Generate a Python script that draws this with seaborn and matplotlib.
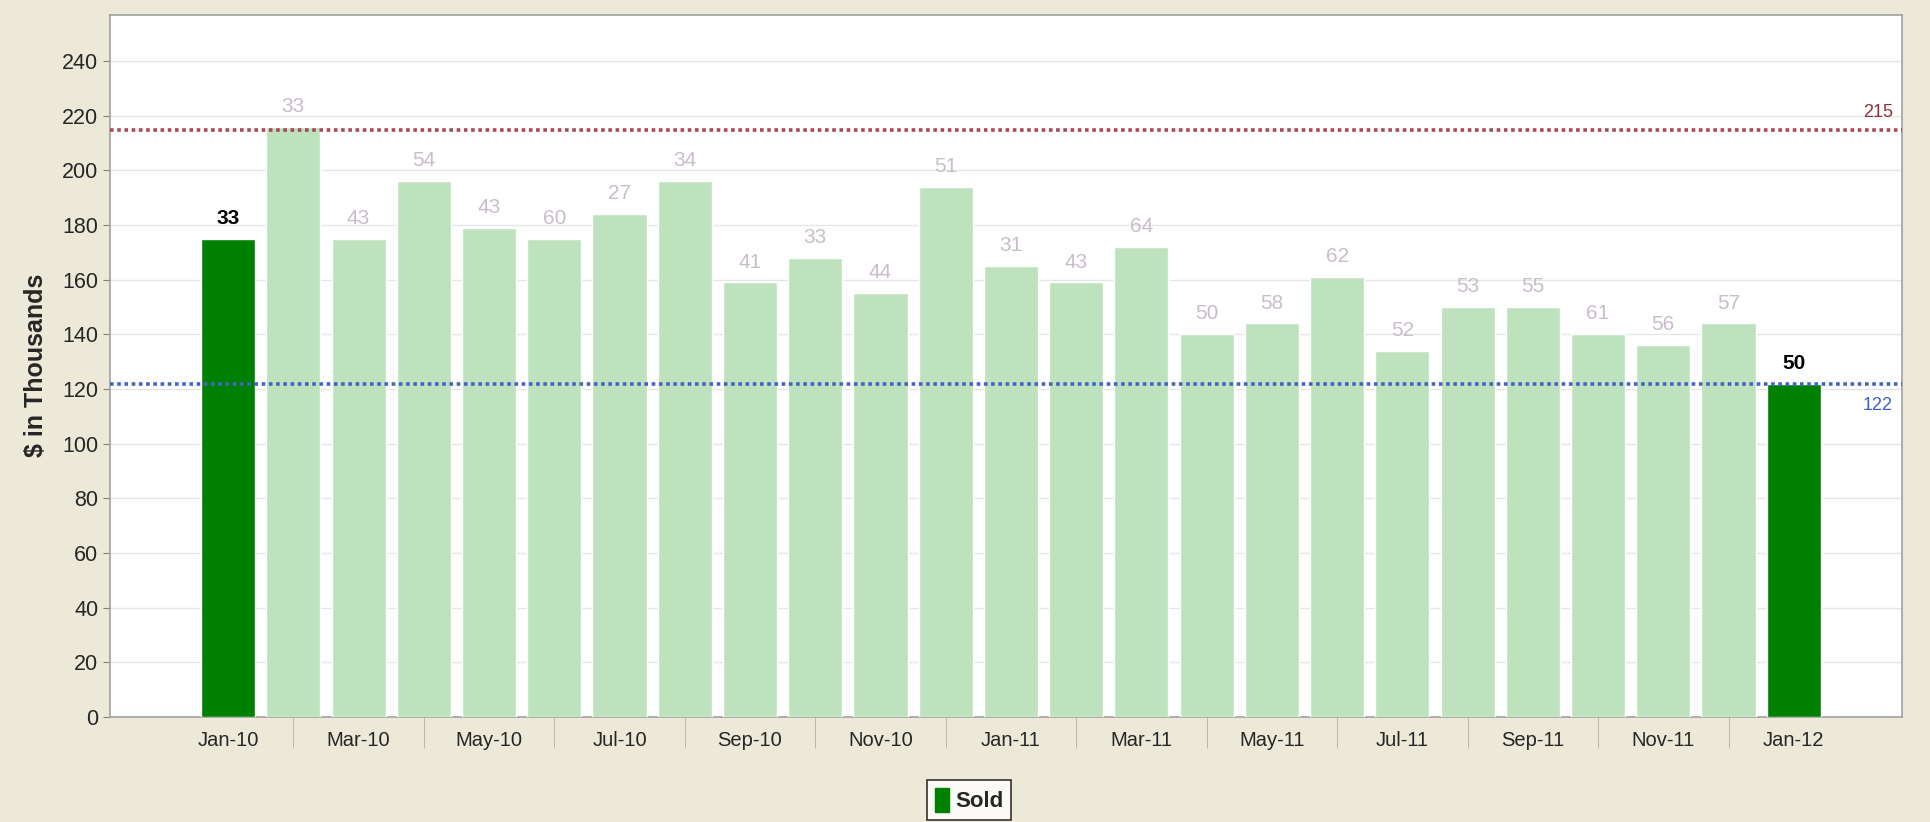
import matplotlib
matplotlib.use('Agg')
import matplotlib.pyplot as plt
import matplotlib.patches as mpatches
import seaborn as sb

months = ['Jan-10', 'Feb-10', 'Mar-10', 'Apr-10', 'May-10', 'Jun-10', 'Jul-10',
          'Aug-10', 'Sep-10', 'Oct-10', 'Nov-10', 'Dec-10', 'Jan-11', 'Feb-11',
          'Mar-11', 'Apr-11', 'May-11', 'Jun-11', 'Jul-11', 'Aug-11', 'Sep-11',
          'Oct-11', 'Nov-11', 'Dec-11', 'Jan-12']
prices = [175, 216, 175, 196, 179, 175, 184, 196, 159, 168, 155, 194, 165, 159,
          172, 140, 144, 161, 134, 150, 150, 140, 136, 144, 122]
counts = [33, 33, 43, 54, 43, 60, 27, 34, 41, 33, 44, 51, 31, 43,
          64, 50, 58, 62, 52, 53, 55, 61, 56, 57, 50]
highlight = ['Jan-10', 'Jan-12']
high_line = 215
low_line = 122

dark_green = '#008000'
light_green = '#bde2bd'
bar_colors = [dark_green if m in highlight else light_green for m in months]

sb.set_style('white')
plt.rcParams['font.family'] = ['Liberation Sans', 'DejaVu Sans']

fig = plt.figure(figsize=(19.31, 8.22), dpi=100)
fig.patch.set_facecolor('#ece9d8')
ax = fig.add_axes([0.057, 0.128, 0.928, 0.854])
ax.set_facecolor('white')

sb.barplot(x=months, y=prices, hue=months, palette=bar_colors, legend=False,
           width=0.83, saturation=1, ax=ax, zorder=3)

# count labels above bars
for i, p in enumerate(ax.patches):
    hi = months[i] in highlight
    ax.text(p.get_x() + p.get_width() / 2, p.get_height() + 4, str(counts[i]),
            ha='center', va='bottom', fontsize=15,
            color='black' if hi else '#c9bccb',
            fontweight='bold' if hi else 'normal', zorder=5)

ax.axhline(high_line, color='#a84858', linestyle=(0, (1, 1)), linewidth=2.6, zorder=4)
ax.axhline(low_line, color='#4464c4', linestyle=(0, (1, 1)), linewidth=2.6, zorder=4)
ax.text(0.995, high_line + 3, str(high_line), transform=ax.get_yaxis_transform(),
        ha='right', va='bottom', fontsize=13, color='#8a3040')
ax.text(0.995, low_line - 5, str(low_line), transform=ax.get_yaxis_transform(),
        ha='right', va='top', fontsize=13, color='#3f5fc8')

ax.set_ylim(0, 257)
ax.set_xlim(-1.81, 25.66)
ax.set_yticks(range(0, 241, 20))
ax.yaxis.grid(True, color='#e6e6e6', linewidth=1, zorder=0)
ax.tick_params(axis='y', labelsize=15.5, length=5, color='#808080', left=True)

ax.set_xticks(range(0, len(months), 2))
ax.set_xticklabels(months[::2], fontsize=14.5)
ax.set_xticks(range(1, len(months), 2), minor=True)
ax.tick_params(axis='x', which='major', length=0, pad=10)
ax.tick_params(axis='x', which='minor', length=22, color='#b0b0a0', bottom=True)

for s in ax.spines.values():
    s.set_color('#a0a0a0')
    s.set_linewidth(1.2)

ax.set_ylabel('$ in Thousands', fontsize=18, fontweight='bold', labelpad=10)

handle = mpatches.Patch(color=dark_green, label='Sold')
leg = fig.legend(handles=[handle], loc='center', bbox_to_anchor=(0.502, 0.027),
                 frameon=True, fancybox=False, handlelength=0.6, handleheight=1.3,
                 handletextpad=0.3, borderpad=0.35,
                 prop={'weight': 'bold', 'size': 16})
leg.get_frame().set_edgecolor('black')
leg.get_frame().set_linewidth(1.2)
leg.get_frame().set_facecolor('white')

fig.savefig('out.png', dpi=100, facecolor=fig.get_facecolor())
